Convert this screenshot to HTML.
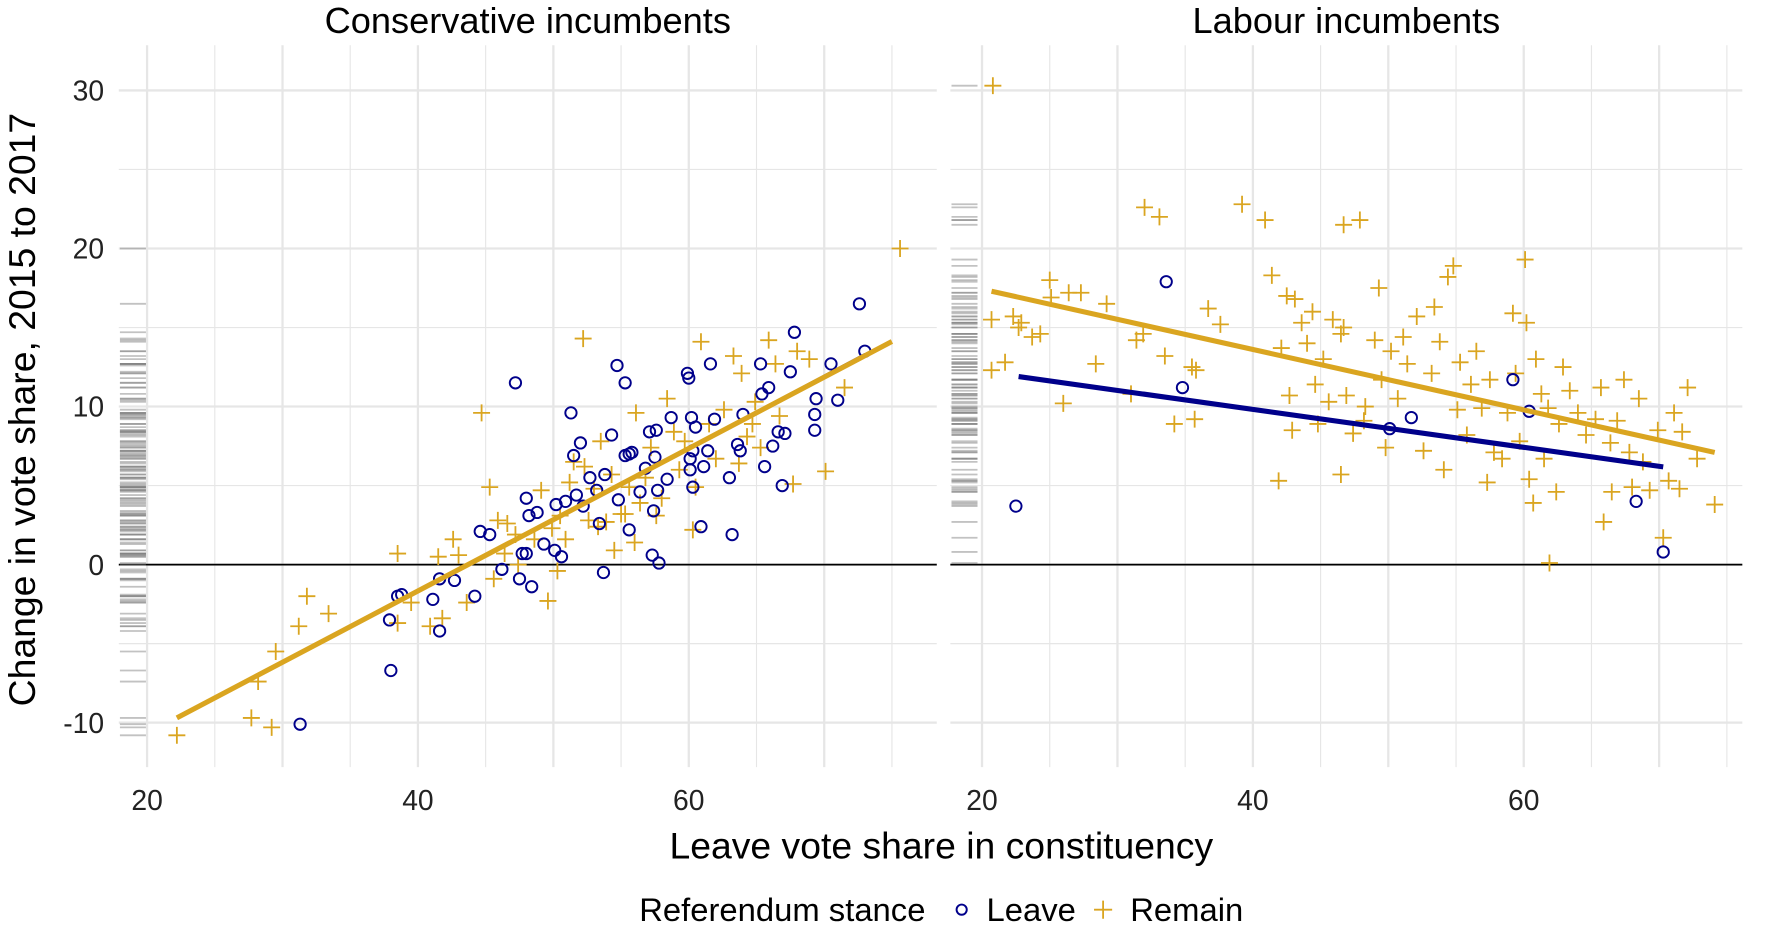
<!DOCTYPE html>
<html><head><meta charset="utf-8">
<style>
html,body{margin:0;padding:0;background:#fff;}
svg{display:block;font-family:"Liberation Sans",sans-serif;}
</style></head>
<body>
<svg id="chart" width="1774" height="938" viewBox="0 0 1568 829" xmlns="http://www.w3.org/2000/svg">
<g id="root"></g>
</svg>
<script>
const conLeaveX=[31.3,38.0,37.9,38.5,38.8,41.1,41.6,41.6,42.7,44.2,44.6,45.3,46.2,47.2,47.5,47.7,48,48,48.4,48.2,48.8,49.3,50.1,50.2,50.6,50.9,51.3,51.5,51.7,52,52.2,52.7,53.2,53.4,53.7,53.8,54.3,54.7,54.8,55.3,55.3,55.6,55.8,55.6,56.4,56.8,57.1,57.3,57.4,57.5,57.6,57.7,57.8,58.4,58.7,59.9,60,60.1,60.1,60.3,60.3,60.2,60.5,60.9,61.1,61.4,61.6,61.9,63,63.2,63.6,63.8,64,65.3,65.4,65.6,65.9,66.2,66.6,66.9,67.1,67.5,67.8,69.3,69.3,69.4,70.5,71,72.6,73];
const conLeaveY=[-10.1,-6.7,-3.5,-2,-1.9,-2.2,-4.2,-0.9,-1,-2,2.1,1.9,-0.3,11.5,-0.9,0.7,0.7,4.2,-1.4,3.1,3.3,1.3,0.9,3.8,0.5,4,9.6,6.9,4.4,7.7,3.7,5.5,4.7,2.6,-0.5,5.7,8.2,12.6,4.1,11.5,6.9,7,7.1,2.2,4.6,6.1,8.4,0.6,3.4,6.8,8.5,4.7,0.1,5.4,9.3,12.1,11.8,6.0,6.7,4.9,7.2,9.3,8.7,2.4,6.2,7.2,12.7,9.2,5.5,1.9,7.6,7.2,9.5,12.7,10.8,6.2,11.2,7.5,8.4,5,8.3,12.2,14.7,9.5,8.5,10.5,12.7,10.4,16.5,13.5];
const conRemainX=[22.2,27.7,28.2,29.2,29.5,31.2,31.8,33.4,38.5,38.5,39.5,40.9,41.8,41.5,42.6,43,43.6,44.7,45.3,45.6,45.9,46.4,46.6,47.2,47.4,48.6,49.1,49.6,49.9,50.3,50.5,50.9,51.2,51.5,52.2,52.3,52.6,53,53.3,53.5,53.9,54.3,54.5,55,55.3,55.6,56,56.1,56.4,56.8,57.2,57.6,58,58.4,58.9,59.3,59.7,60.3,60.5,60.9,61.5,62,62.6,63.3,63.7,63.9,64.3,64.7,64.9,65.3,65.9,66.4,66.7,67.7,68,68.9,70.1,71.5,75.6];
const conRemainY=[-10.8,-9.7,-7.4,-10.3,-5.5,-3.9,-2,-3.1,0.7,-3.7,-2.4,-3.9,-3.4,0.5,1.6,0.6,-2.4,9.6,4.9,-0.9,2.8,0.7,2.6,1.9,0,1.6,4.7,-2.3,2.3,-0.4,3.1,1.6,5.2,6.5,14.3,6.2,2.8,4.8,2.4,7.8,2.7,5.7,0.9,3.2,3.2,4.9,1.4,9.6,3.9,5.5,7.4,3.1,4.2,10.5,8.4,6,7.8,2.2,4.9,14.1,8.9,6.7,9.8,13.2,6.4,12.1,8.1,8.9,10.3,7.4,14.2,12.7,9.4,5.1,13.5,13,5.9,11.2,20];
const labLeaveX=[22.5,33.6,34.8,50.1,51.7,59.2,60.4,68.3,70.3];
const labLeaveY=[3.7,17.9,11.2,8.6,9.3,11.7,9.7,4,0.8];
const labRemainX=[20.8,20.7,20.7,21.7,22.3,22.7,22.9,23.7,24.3,25,25.1,26.4,27.3,26,28.4,29.2,31,31.4,31.9,32,33.1,33.5,34.2,35.7,35.5,35.8,36.7,37.6,39.2,40.9,41.4,41.9,42.1,42.5,42.7,42.9,43.1,43.6,44,44.4,44.6,44.8,45.2,45.6,45.9,46.5,46.7,47.9,46.5,46.7,46.9,47.4,48.2,48.3,49,49.3,49.5,49.8,50.2,50.7,51.1,51.4,52.1,52.6,53.2,53.4,53.8,54.1,54.4,54.8,55.1,55.3,55.8,56.1,56.5,56.9,57.3,57.5,57.8,58.4,58.8,59.2,59.4,59.7,60.1,60.2,60.4,60.7,60.9,61.3,61.5,61.8,61.9,62.4,62.6,62.9,63.4,64,64.6,65.3,65.7,65.9,66.4,66.5,66.9,67.4,67.8,68,68.5,68.8,69.3,69.9,70.3,70.7,71.1,71.5,71.7,72.1,72.8,74.1];
const labRemainY=[30.3,15.5,12.3,12.8,15.7,15,15.3,14.4,14.6,18,16.9,17.2,17.2,10.2,12.7,16.5,10.8,14.2,14.6,22.6,22,13.2,8.9,9.2,12.5,12.3,16.2,15.2,22.8,21.8,18.3,5.3,13.7,17,10.7,8.5,16.8,15.3,14,16,11.4,8.9,13,10.3,15.5,5.7,21.5,21.8,14.6,15,10.7,8.3,9.1,10,14.2,17.5,11.7,7.4,13.5,10.5,14.4,12.7,15.7,7.2,12.1,16.3,14.1,6,18.2,18.9,9.8,12.8,8.2,11.4,13.5,9.9,5.2,11.7,7.1,6.7,9.6,15.9,12.1,7.8,19.3,15.3,5.4,3.9,13,10.8,6.7,9.9,0.1,4.6,8.9,12.5,11,9.6,8.2,9.2,11.2,2.7,7.7,4.6,9.1,11.7,7.1,4.9,10.5,6.5,4.7,8.5,1.7,5.3,9.6,4.8,8.4,11.2,6.7,3.8];
// fitted lines: [slope, intercept, xmin, xmax]
const conLeaveFit=[0.455,-19.9,31.3,73];
const conRemainFit=[0.451,-19.71,22.2,75];
const labLeaveFit=[-0.12,14.62,22.7,70.3];
const labRemainFit=[-0.191,21.25,20.7,74.1];
const xTicks=[20,40,60];
const yTicks=[-10,0,10,20,30];

const NS='http://www.w3.org/2000/svg';
const root=document.getElementById('root');
function mk(tag,attrs,parent,name){const e=document.createElementNS(NS,tag);for(const k in attrs)e.setAttribute(k,attrs[k]);(parent||root).appendChild(e);


return e;}
const yS=v=>499-v*13.97;
const BLUE='#00008B',GOLD='#DAA520';
const panels=[
 {name:'conservative',x0:105,x1:828,org:130,title:'Conservative incumbents',lx:conLeaveX,ly:conLeaveY,rx:conRemainX,ry:conRemainY,lf:conLeaveFit,rf:conRemainFit,lw:2},
 {name:'labour',x0:840,x1:1540,org:868,title:'Labour incumbents',lx:labLeaveX,ly:labLeaveY,rx:labRemainX,ry:labRemainY,lf:labLeaveFit,rf:labRemainFit,lw:4.5}
];
const panelTop=40,panelBot=678;
panels.forEach(p=>{
 const xS=v=>p.org+(v-20)*11.97;
 const g=mk('g',{},root,p.name+'-panel');
 mk('rect',{x:p.x0,y:panelTop,width:p.x1-p.x0,height:panelBot-panelTop,fill:'#fff'},g,'panel-background');
 for(let v=-15;v<=35;v+=5){const y=yS(v);if(y<panelTop||y>panelBot)continue;mk('line',{x1:p.x0,x2:p.x1,y1:y,y2:y,stroke:'#e6e6e6','stroke-width':v%10===0?2:1},g,'y-gridline');}
 for(let v=15;v<=80;v+=5){const x=xS(v);if(x<p.x0||x>p.x1)continue;mk('line',{x1:x,x2:x,y1:panelTop,y2:panelBot,stroke:'#e6e6e6','stroke-width':v%10===0?2:1},g,'x-gridline');}
 mk('line',{x1:p.x0,x2:p.x1,y1:yS(0),y2:yS(0),stroke:'#000','stroke-width':1.6},g,'zero-line');
 p.ly.concat(p.ry).forEach(v=>{mk('line',{x1:p.x0+1,x2:p.x0+24,y1:yS(v),y2:yS(v),stroke:'#777','stroke-opacity':0.45,'stroke-width':1.6},g,'y-rug-tick');});
 p.rx.forEach((v,i)=>{const x=xS(v),y=yS(p.ry[i]);
   mk('path',{d:`M${x-7.5} ${y}H${x+7.5}M${x} ${y-7.5}V${y+7.5}`,stroke:GOLD,'stroke-width':1.6,fill:'none'},g,'remain-point');});
 p.lx.forEach((v,i)=>{mk('circle',{cx:xS(v),cy:yS(p.ly[i]),r:5,stroke:BLUE,'stroke-width':1.7,fill:'none'},g,'leave-point');});
 [[p.lf,BLUE,'leave-fit-line',p.lw],[p.rf,GOLD,'remain-fit-line',4.5]].forEach(([f,c,n,w])=>{
   mk('line',{x1:xS(f[2]),x2:xS(f[3]),y1:yS(f[0]*f[2]+f[1]),y2:yS(f[0]*f[3]+f[1]),stroke:c,'stroke-width':w},g,n);});
 mk('text',{x:(p.x0+p.x1)/2,y:29,'text-anchor':'middle','font-size':32,fill:'#000'},g,'panel-title').textContent=p.title;
 xTicks.forEach(v=>{mk('text',{x:xS(v),y:716,'text-anchor':'middle','font-size':25,fill:'#222'},g,'x-tick-label').textContent=v;});
});
yTicks.forEach(v=>{mk('text',{x:92,y:yS(v)+9,'text-anchor':'end','font-size':25,fill:'#222'},root,'y-tick-label').textContent=v;});
mk('text',{x:832,y:759,'text-anchor':'middle','font-size':33,fill:'#000'},root,'x-axis-title').textContent='Leave vote share in constituency';
mk('text',{x:0,y:0,transform:'translate(31,362) rotate(-90)','text-anchor':'middle','font-size':33,fill:'#000'},root,'y-axis-title').textContent='Change in vote share, 2015 to 2017';
const lg=mk('g',{},root,'legend');
mk('text',{x:565,y:814,'font-size':29,fill:'#000'},lg,'legend-title').textContent='Referendum stance';
mk('circle',{cx:850,cy:804,r:4.5,stroke:BLUE,'stroke-width':1.7,fill:'none'},lg,'legend-leave-key');
mk('text',{x:872,y:814,'font-size':29,fill:'#000'},lg,'legend-leave-label').textContent='Leave';
mk('path',{d:'M967 804H983M975 796V812',stroke:GOLD,'stroke-width':1.6},lg,'legend-remain-key');
mk('text',{x:999,y:814,'font-size':29,fill:'#000'},lg,'legend-remain-label').textContent='Remain';
</script>
</body></html>
